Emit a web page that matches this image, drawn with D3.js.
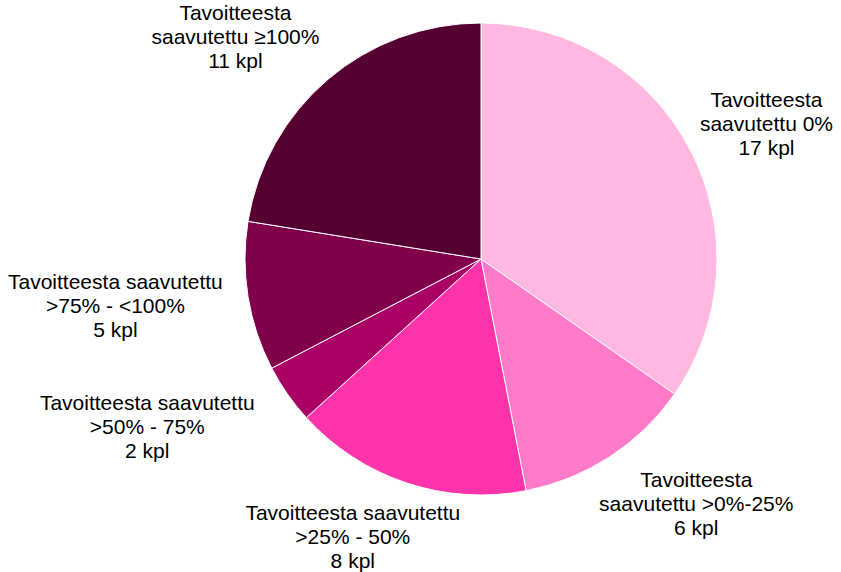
<!DOCTYPE html>
<html>
<head>
<meta charset="utf-8">
<script src="https://cdn.jsdelivr.net/npm/d3@7"></script>
<style>
  html, body { margin: 0; padding: 0; background: #fff; }
  svg { display: block; }
  text { font-family: "Liberation Sans", Arial, sans-serif; font-size: 21px; fill: #000; }
</style>
</head>
<body>
<svg id="chart" width="841" height="572"></svg>
<script>
// Pie data, clockwise from 12 o'clock
const categories = [
  ['Tavoitteesta', 'saavutettu 0%'],
  ['Tavoitteesta', 'saavutettu >0%-25%'],
  ['Tavoitteesta saavutettu', '>25% - 50%'],
  ['Tavoitteesta saavutettu', '>50% - 75%'],
  ['Tavoitteesta saavutettu', '>75% - <100%'],
  ['Tavoitteesta', 'saavutettu ≥100%']
];
const counts = [17, 6, 8, 2, 5, 11];
const colors = ['#ffb9e0', '#ff7ac8', '#ff33aa', '#aa0066', '#80004a', '#550030'];

const W = 841, H = 572;
const svg = d3.select('#chart');
const cx = 481, cy = 259, radius = 236;
const lineHeight = 24;
const labelRadius = 278;

const data = counts.map((v, i) => ({ lines: categories[i], value: v, color: colors[i] }));

const pie = d3.pie().sort(null).value(d => d.value);
const arc = d3.arc().innerRadius(0).outerRadius(radius);
const arcs = pie(data);

const g = svg.append('g').attr('transform', `translate(${cx},${cy})`);

g.selectAll('path.slice')
  .data(arcs)
  .enter().append('path')
  .attr('class', 'slice')
  .attr('d', arc)
  .attr('fill', d => d.data.color)
  .attr('stroke', '#fff')
  .attr('stroke-width', 1);

// Labels sit outside the slice along its mid angle, kept inside the page
const labels = g.selectAll('g.label')
  .data(arcs)
  .enter().append('g')
  .attr('class', 'label');

labels.each(function(d) {
  const node = d3.select(this);
  const lines = d.data.lines.concat([`${d.data.value} kpl`]);
  const text = node.append('text').attr('text-anchor', 'middle');
  lines.forEach((l, i) => {
    text.append('tspan').attr('x', 0).attr('y', i * lineHeight).text(l);
  });
  const bb = text.node().getBBox();
  const mid = (d.startAngle + d.endAngle) / 2;
  const dx = Math.sin(mid), dy = -Math.cos(mid);
  let px = dx * labelRadius + dx * bb.width * 0.6;
  let py = dy * labelRadius + dy * bb.height * 0.2;
  // clamp to the page
  const margin = 8;
  px = Math.max(margin - cx + bb.width / 2, Math.min(W - margin - cx - bb.width / 2, px));
  py = Math.max(-cy + bb.height / 2, Math.min(H - cy - bb.height / 2, py));
  const oy = py - (bb.y + bb.height / 2);
  node.attr('transform', `translate(${px},${oy})`);
});
</script>
</body>
</html>
